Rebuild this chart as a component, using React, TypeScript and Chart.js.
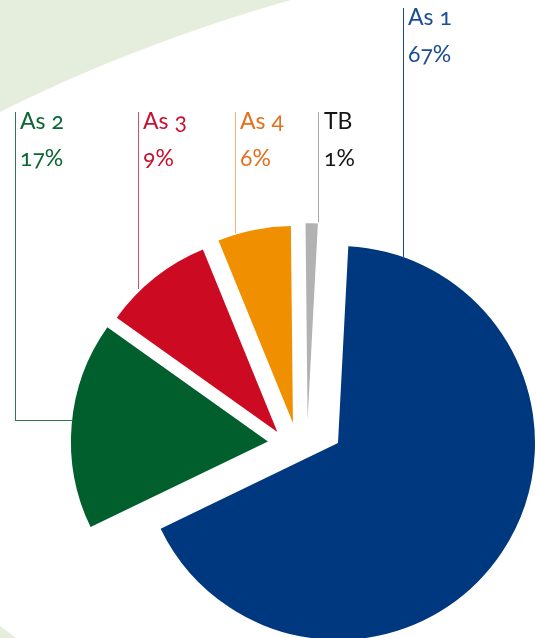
import React, { useEffect, useRef } from "react";
import { Chart, registerables } from "chart.js";

Chart.register(...registerables);

// ---- data ----
const categories = ["As 1", "As 2", "As 3", "As 4", "TB"];
const shares = [67, 17, 9, 6, 1];
const sliceColors = ["#00387f", "#005f2c", "#cc0a21", "#f08f00", "#b2b2b2"];
const textColors = ["#1b4c97", "#0b6633", "#c41230", "#e3701c", "#151515"];
const lineColors = ["#1f4a8c", "#2d7a4c", "#d9505c", "#f3b07a", "#a8a8a8"];

// ---- layout / style ----
const W = 537;
const H = 638;
const CANVAS_H = 700;
const RADIUS = 197;
const CENTER = { x: 338, y: 443 }; // centre of the main slice
const GROUP_SHIFT = { x: -39, y: 5 }; // smaller slices pulled apart from the main one
const EXPLODE = [0, 31.5, 26, 25.7, 28]; // radial explosion per slice
const NUDGE = [0, 4, -7, -1, 8]; // small tangential (clockwise) nudge per slice
const ROTATION = 3;

// leader lines
const leaders = [
  { x: 403, y1: 8, y2: 257 },
  { x: 15, y1: 112, y2: 420, hx: 73 },
  { x: 138, y1: 112, y2: 289 },
  { x: 235, y1: 112, y2: 233 },
  { x: 318, y1: 112, y2: 222 },
];
const labelPos = [
  { x: 408, top: 8 },
  { x: 20, top: 112 },
  { x: 143, top: 112 },
  { x: 240, top: 112 },
  { x: 324, top: 112 },
];

const explodePlugin = {
  id: "explodeSlices",
  beforeDatasetDraw(chart: any, args: any) {
    const ctx = chart.ctx;
    const meta = args.meta;
    meta.data.forEach((arc: any, i: number) => {
      const mid = (arc.startAngle + arc.endAngle) / 2;
      const d = EXPLODE[i];
      const t = NUDGE[i];
      const g = i === 0 ? { x: 0, y: 0 } : GROUP_SHIFT;
      const dx = g.x + Math.cos(mid) * d - Math.sin(mid) * t;
      const dy = g.y + Math.sin(mid) * d + Math.cos(mid) * t;
      ctx.save();
      ctx.translate(dx, dy);
      arc.draw(ctx, chart.chartArea);
      ctx.restore();
    });
    return false;
  },
};

export default function App() {
  const ref = useRef<HTMLCanvasElement | null>(null);

  useEffect(() => {
    if (!ref.current) return;
    const chart = new Chart(ref.current, {
      type: "pie",
      data: {
        labels: categories,
        datasets: [
          {
            data: shares,
            backgroundColor: sliceColors,
            borderWidth: 0,
            clip: false as any,
          },
        ],
      },
      options: {
        responsive: false,
        maintainAspectRatio: false,
        devicePixelRatio: 1,
        animation: false,
        rotation: ROTATION,
        layout: {
          padding: {
            left: CENTER.x - RADIUS,
            top: CENTER.y - RADIUS,
            right: W - (CENTER.x + RADIUS),
            bottom: CANVAS_H - (CENTER.y + RADIUS),
          },
        },
        plugins: {
          legend: { display: false },
          tooltip: { enabled: false },
        },
      },
      plugins: [explodePlugin],
    });
    return () => chart.destroy();
  }, []);

  return (
    <div
      style={{
        position: "fixed",
        left: 0,
        top: 0,
        width: W,
        height: H,
        overflow: "hidden",
        background: "#e5eedc",
        fontFamily: "Lato, 'Open Sans', sans-serif",
      }}
    >
      <div
        style={{
          position: "absolute",
          left: 736 - 1653,
          top: 1592 - 1653,
          width: 1653 * 2,
          height: 1653 * 2,
          borderRadius: "50%",
          background: "#ffffff",
        }}
      />
      <div
        style={{
          position: "absolute",
          left: 0,
          top: 626,
          width: 16,
          height: 12,
          background: "#e5eedc",
          clipPath: "polygon(0 0, 100% 100%, 0 100%)",
        }}
      />
      <canvas
        ref={ref}
        width={W}
        height={CANVAS_H}
        style={{ position: "absolute", left: 0, top: 0, width: W, height: CANVAS_H }}
      />
      {leaders.map((l, i) => (
        <React.Fragment key={"l" + i}>
          <div
            style={{
              position: "absolute",
              left: l.x,
              top: l.y1,
              width: 1.2,
              height: l.y2 - l.y1,
              background: lineColors[i],
            }}
          />
          {l.hx !== undefined && (
            <div
              style={{
                position: "absolute",
                left: l.x,
                top: l.y2,
                width: l.hx - l.x,
                height: 1.2,
                background: lineColors[i],
              }}
            />
          )}
        </React.Fragment>
      ))}
      {categories.map((c, i) => (
        <div
          key={"t" + i}
          style={{
            position: "absolute",
            left: labelPos[i].x,
            top: labelPos[i].top - 10,
            color: textColors[i],
            fontSize: 23,
            lineHeight: "37px",
            whiteSpace: "nowrap",
            fontVariantNumeric: "oldstyle-nums",
            fontFeatureSettings: '"onum" 1',
          }}
        >
          <div>{c}</div>
          <div>{shares[i]}%</div>
        </div>
      ))}
    </div>
  );
}
